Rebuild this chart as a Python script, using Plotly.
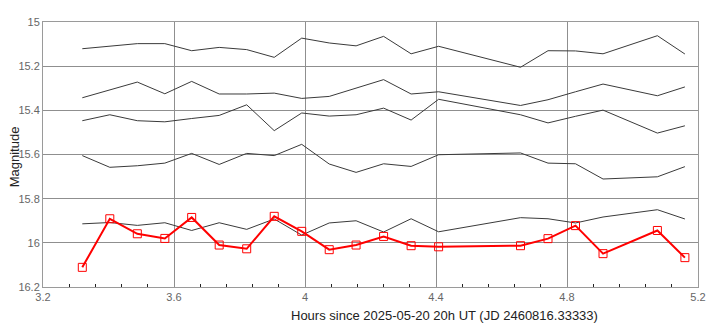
import plotly.graph_objects as go

hours = [3.320, 3.404, 3.488, 3.572, 3.654, 3.738, 3.822, 3.906, 3.990, 4.074,
         4.156, 4.240, 4.324, 4.408, 4.658, 4.742, 4.826, 4.910, 5.076, 5.160]

comp1 = [15.121, 15.109, 15.098, 15.098, 15.130, 15.115, 15.125, 15.160, 15.073, 15.095,
         15.108, 15.065, 15.144, 15.110, 15.205, 15.130, 15.131, 15.144, 15.062, 15.145]
comp2 = [15.343, 15.308, 15.272, 15.325, 15.269, 15.326, 15.326, 15.322, 15.346, 15.337,
         15.300, 15.261, 15.326, 15.316, 15.378, 15.352, 15.316, 15.281, 15.334, 15.294]
comp3 = [15.447, 15.420, 15.447, 15.452, 15.437, 15.423, 15.375, 15.492, 15.412, 15.426,
         15.420, 15.390, 15.444, 15.350, 15.420, 15.457, 15.427, 15.399, 15.503, 15.470]
comp4 = [15.605, 15.658, 15.651, 15.639, 15.595, 15.645, 15.595, 15.605, 15.554, 15.643,
         15.681, 15.642, 15.654, 15.601, 15.593, 15.639, 15.642, 15.711, 15.701, 15.655]
comp5 = [15.914, 15.908, 15.921, 15.909, 15.944, 15.909, 15.939, 15.892, 15.965, 15.910,
         15.900, 15.951, 15.891, 15.950, 15.886, 15.891, 15.910, 15.883, 15.850, 15.892]
target = [16.111, 15.891, 15.959, 15.980, 15.885, 16.010, 16.027, 15.880, 15.948, 16.031,
          16.010, 15.971, 16.013, 16.018, 16.013, 15.981, 15.922, 16.049, 15.944, 16.067]

x_title = "Hours since 2025-05-20 20h UT (JD 2460816.33333)"
y_title = "Magnitude"

fig = go.Figure()
for comp in [comp1, comp2, comp3, comp4, comp5]:
    fig.add_trace(go.Scatter(x=hours, y=comp, mode="lines",
                             line=dict(color="#3a3a3a", width=1), showlegend=False,
                             hoverinfo="skip"))
fig.add_trace(go.Scatter(x=hours, y=target, mode="lines+markers",
                         line=dict(color="#ff0000", width=2),
                         marker=dict(symbol="square-open", size=8, color="#ff0000",
                                     line=dict(width=1, color="#ff0000")),
                         showlegend=False))

font = "Liberation Sans, Arial, sans-serif"
fig.update_layout(
    width=718, height=330,
    margin=dict(l=43, r=12, t=22, b=43),
    paper_bgcolor="white", plot_bgcolor="white",
    font=dict(family=font, size=11, color="#666666"),
    xaxis=dict(range=[3.2, 5.2], dtick=0.4, tick0=0, showgrid=True,
               gridcolor="#8f8f8f", gridwidth=1, zeroline=False,
               showline=True, linecolor="#9a9a9a", linewidth=1, mirror=True,
               ticks="", tickfont=dict(size=11, color="#666666"),
               minor=dict(ticks="inside", dtick=0.08, ticklen=3, tickcolor="#222222",
                          tickwidth=1, showgrid=False)),
    yaxis=dict(range=[16.2, 15.0], dtick=0.2, tick0=0, showgrid=True,
               gridcolor="#8f8f8f", gridwidth=1, zeroline=False,
               showline=True, linecolor="#9a9a9a", linewidth=1, mirror=True,
               ticks="", ticklabelstandoff=0, tickfont=dict(size=11, color="#666666")),
    annotations=[
        dict(text=x_title, xref="paper", yref="paper", x=0.613, y=-0.106,
             xanchor="center", yanchor="middle", showarrow=False,
             font=dict(family=font, size=13, color="#222222")),
        dict(text=y_title, xref="paper", yref="paper", x=-0.044, y=0.49,
             xanchor="center", yanchor="middle", showarrow=False, textangle=-90,
             font=dict(family=font, size=13, color="#222222")),
    ],
)

fig.write_html("out.html")
